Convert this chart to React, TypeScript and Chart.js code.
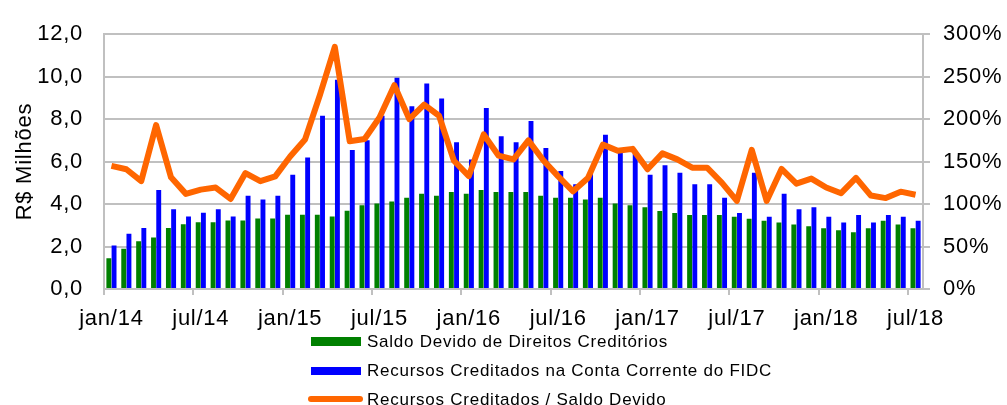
import React, { useEffect, useRef } from 'react';
import { Chart, registerables } from 'chart.js';

Chart.register(...registerables);

const categories: string[] = [
  'jan/14', 'fev/14', 'mar/14', 'abr/14', 'mai/14', 'jun/14', 'jul/14', 'ago/14', 'set/14', 'out/14', 'nov/14', 'dez/14',
  'jan/15', 'fev/15', 'mar/15', 'abr/15', 'mai/15', 'jun/15', 'jul/15', 'ago/15', 'set/15', 'out/15', 'nov/15', 'dez/15',
  'jan/16', 'fev/16', 'mar/16', 'abr/16', 'mai/16', 'jun/16', 'jul/16', 'ago/16', 'set/16', 'out/16', 'nov/16', 'dez/16',
  'jan/17', 'fev/17', 'mar/17', 'abr/17', 'mai/17', 'jun/17', 'jul/17', 'ago/17', 'set/17', 'out/17', 'nov/17', 'dez/17',
  'jan/18', 'fev/18', 'mar/18', 'abr/18', 'mai/18', 'jun/18', 'jul/18',
];

// Saldo Devido de Direitos Creditórios (R$ milhões)
const saldoDevido: number[] = [
  1.45, 1.9, 2.25, 2.42, 2.87, 3.05, 3.14, 3.14, 3.23, 3.23, 3.32, 3.32,
  3.5, 3.5, 3.5, 3.41, 3.68, 3.95, 4.03, 4.12, 4.3, 4.48, 4.39, 4.57,
  4.48, 4.66, 4.57, 4.57, 4.57, 4.39, 4.3, 4.3, 4.21, 4.3, 4.03, 3.94,
  3.85, 3.67, 3.58, 3.49, 3.49, 3.49, 3.4, 3.31, 3.22, 3.13, 3.04, 2.95,
  2.86, 2.77, 2.67, 2.86, 3.22, 3.04, 2.86,
];

// Recursos Creditados na Conta Corrente do FIDC (R$ milhões)
const recursosCreditados: number[] = [
  2.05, 2.6, 2.87, 4.66, 3.76, 3.41, 3.59, 3.76, 3.41, 4.39, 4.21, 4.39,
  5.38, 6.19, 8.16, 9.86, 6.55, 7.0, 8.16, 9.95, 8.61, 9.68, 8.97, 6.91,
  6.1, 8.52, 7.19, 6.91, 7.91, 6.64, 5.56, 4.93, 5.56, 7.27, 6.55, 6.37,
  5.38, 5.83, 5.47, 4.93, 4.93, 4.3, 3.58, 5.47, 3.4, 4.48, 3.76, 3.85,
  3.4, 3.13, 3.49, 3.13, 3.49, 3.4, 3.22,
];

// Recursos Creditados / Saldo Devido (%)
const razao: number[] = [
  145, 141, 127, 193, 131.5, 112, 117, 119.5, 106, 136.5, 127, 132.6,
  156, 176, 228.5, 285, 174, 176.6, 202, 240, 200, 217, 204, 151,
  133, 182, 157, 152.6, 175, 151.5, 132.6, 115, 130.8, 170, 162.7, 165,
  141, 159.7, 152.6, 142.8, 142.8, 125, 103.7, 163.9, 103.7, 141.3, 124, 130,
  119.5, 112.8, 130.8, 110, 107, 114.6, 111,
];

const seriesNames: string[] = [
  'Saldo Devido de Direitos Creditórios',
  'Recursos Creditados na Conta Corrente do FIDC',
  'Recursos Creditados / Saldo Devido',
];

const GRID = '#c0c0c0';
const FONT = '"Liberation Sans", Arial, sans-serif';
const GREEN = '#008000';
const BLUE = '#0000ff';
const ORANGE = '#ff6600';

export default function App() {
  const ref = useRef<HTMLCanvasElement>(null);

  useEffect(() => {
    if (!ref.current) return;
    const spacingPlugin = {
      id: 'letterSpacing',
      beforeDraw(chart: any) {
        chart.ctx.letterSpacing = '0.75px';
      },
    };
    const chart = new Chart(ref.current, {
      type: 'bar',
      data: {
        labels: categories,
        datasets: [
          {
            type: 'line',
            label: seriesNames[2],
            data: razao,
            yAxisID: 'y2',
            borderColor: ORANGE,
            backgroundColor: ORANGE,
            borderWidth: 6,
            pointRadius: 0,
            tension: 0,
            borderJoinStyle: 'round',
            order: 0,
          } as any,
          {
            label: seriesNames[0],
            data: saldoDevido,
            yAxisID: 'y',
            backgroundColor: GREEN,
            categoryPercentage: 0.7,
            barPercentage: 0.94,
            order: 1,
          },
          {
            label: seriesNames[1],
            data: recursosCreditados,
            yAxisID: 'y',
            backgroundColor: BLUE,
            categoryPercentage: 0.7,
            barPercentage: 0.94,
            order: 1,
          },
        ],
      },
      options: {
        responsive: false,
        animation: false,
        layout: { padding: { top: 23, left: 0, right: 0, bottom: 0 } },
        plugins: {
          legend: { display: false },
          tooltip: { enabled: false },
        },
        scales: {
          x: {
            offset: true,
            grid: {
              offset: true,
              drawOnChartArea: false,
              drawTicks: true,
              tickLength: 6,
              lineWidth: 2,
              color: GRID,
              tickColor: (c: any) => (c.index % 6 === 0 ? GRID : 'rgba(0,0,0,0)'),
            },
            border: { display: true, color: GRID, width: 2 },
            ticks: {
              autoSkip: false,
              maxRotation: 0,
              minRotation: 0,
              padding: 11,
              color: '#000',
              font: { family: FONT, size: 22 },
              callback: (_v: any, i: number) => {
                const l = categories[i];
                return l.startsWith('jan') || l.startsWith('jul') ? l : '';
              },
            },
            afterFit: (s: any) => {
              s.height = 116;
            },
          },
          y: {
            position: 'left',
            min: 0,
            max: 12,
            ticks: {
              stepSize: 2,
              padding: 21,
              color: '#000',
              font: { family: FONT, size: 22 },
              callback: (v: any) => Number(v).toFixed(1).replace('.', ','),
            },
            grid: { color: GRID, lineWidth: 2, drawTicks: false },
            border: { display: true, color: GRID, width: 2 },
            title: {
              display: true,
              text: 'R$ Milhões',
              color: '#000',
              font: { family: FONT, size: 22 },
              padding: { top: 12, bottom: 0 },
            },
            afterFit: (s: any) => {
              s.width = 104;
            },
          },
          y2: {
            position: 'right',
            min: 0,
            max: 300,
            ticks: {
              stepSize: 50,
              padding: 13,
              color: '#000',
              font: { family: FONT, size: 22 },
              callback: (v: any) => `${v}%`,
            },
            grid: {
              drawOnChartArea: false,
              drawTicks: true,
              tickLength: 7,
              color: GRID,
              lineWidth: 2,
            },
            border: { display: true, color: GRID, width: 2 },
            afterFit: (s: any) => {
              s.width = 84;
            },
          },
        },
      } as any,
      plugins: [spacingPlugin],
    });
    return () => chart.destroy();
  }, []);

  const textStyle: React.CSSProperties = {
    position: 'absolute',
    left: 367,
    fontFamily: FONT,
    fontSize: 17,
    lineHeight: '17px',
    letterSpacing: '0.75px',
    color: '#000',
    whiteSpace: 'nowrap',
  };

  return (
    <div
      style={{
        position: 'absolute',
        left: 0,
        top: 0,
        width: 1007,
        height: 405,
        overflow: 'hidden',
        background: '#fff',
      }}
    >
      <canvas ref={ref} width={1007} height={405} style={{ display: 'block' }} />
      <div style={{ position: 'absolute', left: 311, top: 337, width: 50, height: 9, background: GREEN }} />
      <div style={{ ...textStyle, top: 333 }}>{seriesNames[0]}</div>
      <div style={{ position: 'absolute', left: 311, top: 367, width: 50, height: 8, background: BLUE }} />
      <div style={{ ...textStyle, top: 362 }}>{seriesNames[1]}</div>
      <div
        style={{
          position: 'absolute',
          left: 308,
          top: 396,
          width: 55,
          height: 6,
          borderRadius: 3,
          background: ORANGE,
        }}
      />
      <div style={{ ...textStyle, top: 391 }}>{seriesNames[2]}</div>
    </div>
  );
}
